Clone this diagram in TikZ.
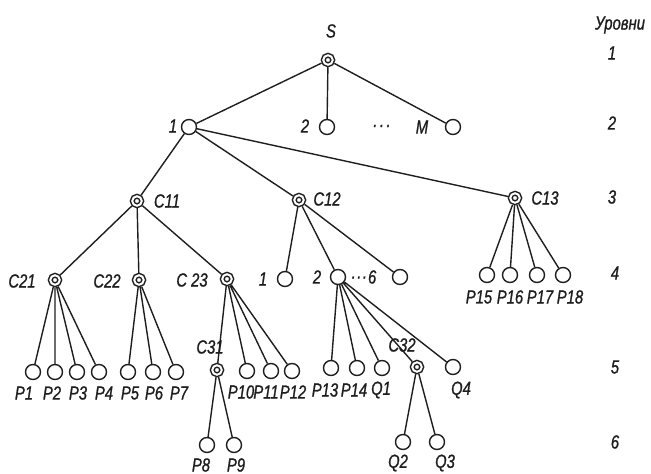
\documentclass[tikz,border=0pt]{standalone}
\usepackage{fontspec}
\setmainfont{Liberation Sans}[FakeStretch=0.78,FakeBold=1]
\usepackage{tikz}
\usetikzlibrary{positioning}
\definecolor{inkgray}{RGB}{30,30,30}

\begin{document}
\begin{tikzpicture}[x=1pt,y=-1pt,
  vert/.style={draw=inkgray, circle, line width=1.4pt, minimum size=15pt, inner sep=0pt},
  cvert/.style={draw=inkgray, circle, line width=1.5pt, double, double distance=2pt, minimum size=9.5pt, inner sep=0pt, outer sep=2.5pt},
  lbl/.style={text=inkgray, inner sep=0pt, font=\fontsize{19}{21}\selectfont\itshape},
  edge/.style={draw=inkgray, line width=1.4pt}]
\useasboundingbox (0,0) rectangle (651,474);
% level 1 and 2
\node[cvert] (S) at (328,60) {};
\node[vert] (n1) at (189,127) {};
\node[vert] (n2) at (327,127) {};
\node[vert] (nM) at (453,127) {};
\node[lbl] (lS) at (331,31) {S};
\node[lbl] (ln1) at (173,126) {1};
\node[lbl] (ln2) at (305,126) {2};
\node[lbl] (ldots) at (382,127) {\raisebox{2pt}{.\kern2.5pt.\kern2.5pt.}};
\node[lbl] (lM) at (422,127) {M};
% level 3
\node[cvert] (c11) at (137,201) {};
\node[cvert] (c12) at (299,200) {};
\node[cvert] (c13) at (515,198) {};
\node[lbl] (lc11) at (167,201) {C11};
\node[lbl] (lc12) at (327,199) {C12};
\node[lbl] (lc13) at (545,198) {C13};
% level 4
\node[cvert] (c21) at (55,280) {};
\node[cvert] (c22) at (139,280) {};
\node[cvert] (c23) at (227,279) {};
\node[vert] (d1) at (285,279) {};
\node[vert] (d2) at (338,277) {};
\node[vert] (d6) at (400,277) {};
\node[vert] (p15) at (487,275) {};
\node[vert] (p16) at (510,275) {};
\node[vert] (p17) at (537,275) {};
\node[vert] (p18) at (563,275) {};
\node[lbl] (lc21) at (22,281) {C21};
\node[lbl] (lc22) at (107,281) {C22};
\node[lbl] (lc23) at (192,280) {C 23};
\node[lbl] (ld1) at (263,279) {1};
\node[lbl] (ld2) at (317,277) {2};
\node[lbl] (ld6) at (364,277) {\raisebox{5pt}{.\kern1.5pt.\kern1.5pt.}\kern1pt6};
\node[lbl] (lp15) at (479,297) {P15};
\node[lbl] (lp16) at (510,297) {P16};
\node[lbl] (lp17) at (540,297) {P17};
\node[lbl] (lp18) at (570,297) {P18};
% level 5
\node[vert] (p1) at (33,372) {};
\node[vert] (p2) at (55,372) {};
\node[vert] (p3) at (77,372) {};
\node[vert] (p4) at (99,372) {};
\node[vert] (p5) at (128,372) {};
\node[vert] (p6) at (153,372) {};
\node[vert] (p7) at (176,372) {};
\node[cvert] (c31) at (217,370) {};
\node[vert] (p10) at (247,371) {};
\node[vert] (p11) at (271,371) {};
\node[vert] (p12) at (292,371) {};
\node[vert] (p13) at (331,368) {};
\node[vert] (p14) at (357,368) {};
\node[vert] (q1) at (382,368) {};
\node[cvert] (c32) at (417,367) {};
\node[vert] (q4) at (453,367) {};
\node[lbl] (lp1) at (24,393) {P1};
\node[lbl] (lp2) at (52,393) {P2};
\node[lbl] (lp3) at (78,393) {P3};
\node[lbl] (lp4) at (104,393) {P4};
\node[lbl] (lp5) at (130,393) {P5};
\node[lbl] (lp6) at (154,393) {P6};
\node[lbl] (lp7) at (179,393) {P7};
\node[lbl] (lc31) at (210,347) {C31};
\node[lbl] (lp10) at (241,392) {P10};
\node[lbl] (lp11) at (266,392) {P11};
\node[lbl] (lp12) at (293,392) {P12};
\node[lbl] (lp13) at (325,390) {P13};
\node[lbl] (lp14) at (354,390) {P14};
\node[lbl] (lq1) at (381,390) {Q1};
\node[lbl] (lc32) at (402,345) {C32};
\node[lbl] (lq4) at (461,390) {Q4};
% level 6
\node[vert] (p8) at (207,445) {};
\node[vert] (p9) at (234,445) {};
\node[vert] (q2) at (403,442) {};
\node[vert] (q3) at (437,442) {};
\node[lbl] (lp8) at (201,465) {P8};
\node[lbl] (lp9) at (236,465) {P9};
\node[lbl] (lq2) at (398,463) {Q2};
\node[lbl] (lq3) at (445,463) {Q3};
% level numbers
\node[lbl] (lev) at (620,25) {Уровни};
\node[lbl] (lev1) at (612,53) {1};
\node[lbl] (lev2) at (612,123) {2};
\node[lbl] (lev3) at (612,197) {3};
\node[lbl] (lev4) at (615,273) {4};
\node[lbl] (lev5) at (615,367) {5};
\node[lbl] (lev6) at (615,442) {6};
% connectors
\path[edge] (S) -- (n1) (S) -- (n2) (S) -- (nM);
\path[edge] (n1) -- (c11) (n1) -- (c12) (n1) -- (c13);
\path[edge] (c11) -- (c21) (c11) -- (c22) (c11) -- (c23);
\path[edge] (c12) -- (d1) (c12) -- (d2) (c12) -- (d6);
\path[edge] (c13) -- (p15) (c13) -- (p16) (c13) -- (p17) (c13) -- (p18);
\path[edge] (c21) -- (p1) (c21) -- (p2) (c21) -- (p3) (c21) -- (p4);
\path[edge] (c22) -- (p5) (c22) -- (p6) (c22) -- (p7);
\path[edge] (c23) -- (c31) (c23) -- (p10) (c23) -- (p11) (c23) -- (p12);
\path[edge] (d2) -- (p13) (d2) -- (p14) (d2) -- (q1) (d2) -- (c32) (d2) -- (q4);
\path[edge] (c31) -- (p8) (c31) -- (p9);
\path[edge] (c32) -- (q2) (c32) -- (q3);
\end{tikzpicture}
\end{document}
